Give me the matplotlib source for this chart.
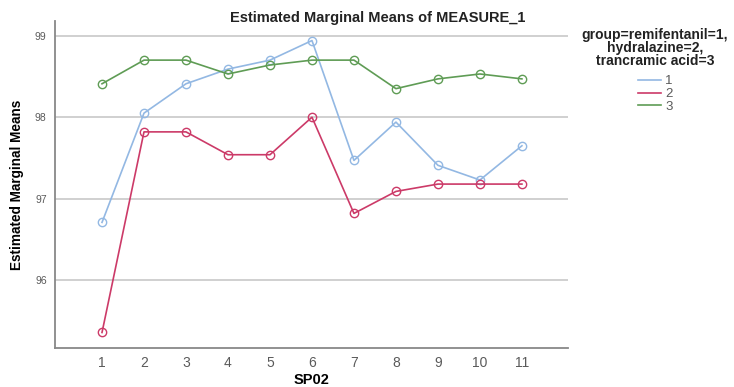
import matplotlib
matplotlib.use("Agg")
import matplotlib.pyplot as plt

plt.rcParams['font.family'] = ['Liberation Sans', 'DejaVu Sans']

# SP02 levels and estimated marginal means per group
sp02 = [1, 2, 3, 4, 5, 6, 7, 8, 9, 10, 11]
group1 = [96.71, 98.05, 98.41, 98.59, 98.70, 98.94, 97.47, 97.94, 97.41, 97.23, 97.65]
group2 = [95.36, 97.82, 97.82, 97.54, 97.54, 98.00, 96.82, 97.09, 97.18, 97.18, 97.18]
group3 = [98.41, 98.70, 98.70, 98.53, 98.64, 98.70, 98.70, 98.35, 98.47, 98.53, 98.47]
labels = ['1', '2', '3']
colors = ['#93b8e3', '#cc3a68', '#5f9c55']
yticks = [96, 97, 98, 99]

fig = plt.figure(figsize=(7.34, 3.87), dpi=100)
ax = fig.add_axes([0.0749, 0.1008, 0.6991, 0.845])

for ys, lab, c in zip([group1, group2, group3], labels, colors):
    ax.plot(sp02, ys, color=c, lw=1.2, marker='o', ms=6, mfc='none',
            mec=c, mew=1.0, label=lab)

ax.set_xlim(-0.12, 12.1)
ax.set_ylim(95.17, 99.18)
ax.set_xticks(sp02)
ax.set_yticks(yticks)
ax.grid(axis='y', color='#c8c8c8', lw=1.2)
ax.set_axisbelow(True)
ax.tick_params(length=0, colors='#5a5a5a')
ax.tick_params(axis='x', labelsize=10, pad=6)
ax.tick_params(axis='y', labelsize=7.5, pad=6)
for s in ['top', 'right']:
    ax.spines[s].set_visible(False)
for s in ['left', 'bottom']:
    ax.spines[s].set_color('#888888')
    ax.spines[s].set_linewidth(1.3)

ax.set_xlabel('SP02', fontsize=10.5, fontweight='bold', labelpad=2)
ax.set_ylabel('Estimated Marginal Means', fontsize=9.8, fontweight='bold', labelpad=8)

fig.text(378 / 734, 1 - 18 / 387, 'Estimated Marginal Means of MEASURE_1',
         ha='center', va='center', fontsize=10.5, fontweight='bold', color='#222222')

# legend title drawn separately so it can be centred like SPSS does
fig.text(655 / 734, 1 - 48 / 387, 'group=remifentanil=1,\nhydralazine=2,\ntrancramic acid=3',
         ha='center', va='center', multialignment='center', fontsize=10,
         fontweight='bold', color='#222222', linespacing=0.95)

leg = ax.legend(loc='upper left', bbox_to_anchor=(638 / 734, 1 - 75 / 387),
                bbox_transform=fig.transFigure, frameon=False,
                fontsize=9.5, handlelength=1.75, handletextpad=0.3,
                labelspacing=0.05, borderaxespad=0, borderpad=0)
for t in leg.get_texts():
    t.set_color('#5a5a5a')
for h in leg.legend_handles:
    h.set_marker('')

fig.savefig('out.png', dpi=100)
